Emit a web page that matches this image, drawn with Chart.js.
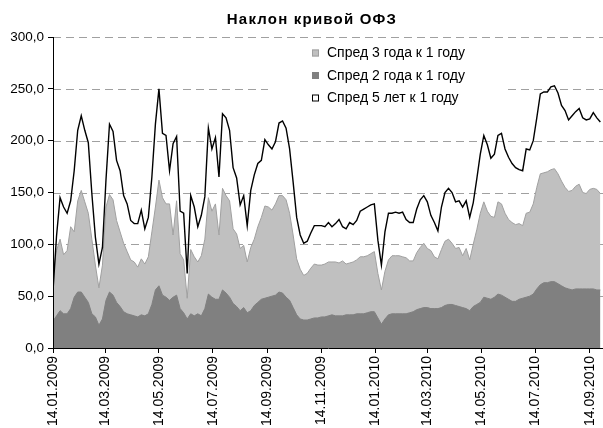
<!DOCTYPE html>
<html>
<head>
<meta charset="utf-8">
<script src="https://cdn.jsdelivr.net/npm/chart.js@4/dist/chart.umd.min.js"></script>
<style>
  html, body { margin: 0; padding: 0; background: #fff; }
  #wrap { width: 603px; height: 428px; }
</style>
</head>
<body>
<div id="wrap"><canvas id="chart"></canvas></div>
<script>
// observations every 4 calendar days starting from the first date
const startDate = '14.01.2009';
const stepDays = 4;

const tickLabels = ['14.01.2009', '14.03.2009', '14.05.2009', '14.07.2009', '14.09.2009', '14.11.2009',
    '14.01.2010', '14.03.2010', '14.05.2010', '14.07.2010', '14.09.2010'];

const seriesNames = ['Спред 3 года к 1 году', 'Спред 2 года к 1 году', 'Спред 5 лет к 1 году'];

// Спред 5 лет к 1 году (line)
const spread5y = [
    55, 108, 145, 136, 130, 142, 171, 210, 224, 210,
    198, 149, 107, 81, 97, 162, 216, 209, 181, 171,
    147, 139, 123, 120, 120, 133, 115, 126, 165, 216,
    250, 207, 205, 171, 197, 204, 132, 130, 72, 147,
    136, 117, 128, 146, 212, 192, 203, 165, 226, 222,
    210, 174, 164, 138, 147, 118, 152, 167, 178, 181,
    201, 196, 192, 199, 217, 219, 212, 192, 160, 126,
    109, 101, 103, 111, 118, 118, 118, 117, 121, 117,
    120, 124, 117, 115, 121, 119, 123, 132, 134, 136,
    138, 139, 104, 80, 112, 130, 130, 131, 130, 131,
    124, 121, 121, 134, 143, 147, 141, 128, 121, 113,
    136, 150, 154, 150, 141, 142, 136, 142, 126, 140,
    163, 187, 205, 196, 183, 187, 205, 207, 192, 184,
    178, 174, 172, 171, 192, 191, 200, 222, 245, 247,
    247, 252, 253, 246, 234, 229, 220, 224, 228, 231,
    222, 220, 221, 227, 222, 218
];

// Спред 3 года к 1 году (light area)
const spread3y = [
    72, 94, 105, 90, 94, 117, 112, 142, 152, 141,
    130, 105, 80, 58, 80, 136, 148, 143, 123, 112,
    101, 93, 85, 83, 78, 86, 81, 88, 112, 136,
    162, 145, 139, 139, 109, 142, 91, 85, 48, 95,
    88, 83, 89, 105, 145, 132, 139, 109, 154, 147,
    142, 115, 110, 96, 99, 83, 97, 105, 117, 126,
    137, 136, 133, 139, 147, 147, 143, 130, 109, 86,
    76, 70, 72, 77, 81, 80, 80, 81, 83, 83,
    83, 82, 84, 81, 82, 83, 85, 88, 88, 89,
    91, 93, 72, 56, 74, 85, 89, 89, 89, 88,
    87, 84, 84, 92, 97, 101, 96, 94, 88, 86,
    95, 103, 105, 101, 96, 97, 89, 96, 85, 100,
    114, 130, 141, 132, 127, 126, 141, 139, 130, 124,
    121, 119, 120, 118, 130, 131, 139, 155, 168, 169,
    170, 172, 173, 168, 161, 155, 151, 152, 156, 158,
    150, 149, 153, 154, 153, 149
];

// Спред 2 года к 1 году (dark area)
const spread2y = [
    26, 31, 36, 33, 33, 38, 49, 54, 54, 49,
    44, 33, 30, 22, 28, 46, 54, 51, 44, 40,
    35, 33, 32, 31, 30, 32, 31, 33, 42, 56,
    60, 51, 49, 46, 49, 51, 38, 34, 28, 33,
    31, 33, 31, 38, 52, 49, 47, 47, 56, 53,
    49, 43, 40, 36, 39, 34, 36, 41, 44, 47,
    48, 49, 50, 51, 54, 53, 49, 46, 39, 32,
    28, 27, 27, 28, 29, 29, 30, 30, 31, 32,
    31, 31, 31, 32, 32, 32, 33, 33, 33, 34,
    35, 35, 29, 23, 28, 32, 33, 33, 33, 33,
    33, 34, 35, 37, 38, 39, 39, 38, 38, 38,
    39, 41, 42, 42, 41, 40, 39, 38, 36, 40,
    42, 44, 49, 48, 47, 49, 52, 51, 49, 47,
    45, 45, 47, 48, 49, 50, 52, 57, 61, 63,
    63, 64, 64, 62, 60, 58, 57, 56, 57, 57,
    57, 57, 57, 57, 56, 56
];

function toUtc(s) {
    const [d, m, y] = s.split('.').map(Number);
    return Date.UTC(y, m - 1, d);
}
function dayOf(s) {
    return Math.round((toUtc(s) - toUtc(startDate)) / 86400000);
}
const tickDays = tickLabels.map(dayOf);
const toPoints = arr => arr.map((v, i) => ({ x: i * stepDays, y: v }));

const FONT = '"Liberation Sans", Arial, sans-serif';

// dashed horizontal gridlines, drawn under the series
const dashedGrid = {
    id: 'dashedGrid',
    beforeDatasetsDraw(chart) {
        const { ctx, chartArea, scales: { y } } = chart;
        ctx.save();
        ctx.strokeStyle = '#a0a0a0';
        ctx.lineWidth = 1;
        ctx.setLineDash([8, 5]);
        y.ticks.forEach(t => {
            if (t.value === 0) return;
            const py = Math.round(y.getPixelForValue(t.value)) + 0.5;
            ctx.beginPath();
            ctx.moveTo(chartArea.left, py);
            ctx.lineTo(chartArea.right, py);
            ctx.stroke();
        });
        ctx.restore();
    }
};

const titleAndLegend = {
    id: 'titleAndLegend',
    afterDraw(chart) {
        const ctx = chart.ctx;
        ctx.save();
        ctx.fillStyle = '#000';
        ctx.font = 'bold 15px ' + FONT;
        ctx.letterSpacing = '1.2px';
        ctx.textAlign = 'center';
        ctx.textBaseline = 'alphabetic';
        ctx.fillText('Наклон кривой ОФЗ', 312, 24);
        ctx.letterSpacing = '0px';

        // legend background
        ctx.fillStyle = '#fff';
        ctx.fillRect(268, 41, 237, 67);

        const rows = [
            { fill: '#c0c0c0', stroke: '#a0a0a0', y: 53 },
            { fill: '#808080', stroke: '#808080', y: 75.5 },
            { fill: '#ffffff', stroke: '#000000', y: 98 }
        ];
        ctx.font = '14px ' + FONT;
        ctx.textAlign = 'left';
        ctx.textBaseline = 'middle';
        rows.forEach((r, i) => {
            ctx.fillStyle = r.fill;
            ctx.fillRect(312, r.y - 3.5, 7, 7);
            ctx.strokeStyle = r.stroke;
            ctx.lineWidth = 1;
            ctx.strokeRect(312.5, r.y - 3.5 + 0.5, 6, 6);
            ctx.fillStyle = '#000';
            ctx.fillText(seriesNames[i], 327, r.y + 0.5);
        });
        ctx.restore();
    }
};

new Chart(document.getElementById('chart'), {
    type: 'line',
    data: {
        datasets: [
            {
                label: seriesNames[2],
                data: toPoints(spread5y),
                borderColor: '#000',
                borderWidth: 1.4,
                pointRadius: 0,
                fill: false,
                tension: 0
            },
            {
                label: seriesNames[1],
                data: toPoints(spread2y),
                borderColor: '#808080',
                backgroundColor: '#808080',
                borderWidth: 1,
                pointRadius: 0,
                fill: 'origin',
                tension: 0
            },
            {
                label: seriesNames[0],
                data: toPoints(spread3y),
                borderColor: '#a0a0a0',
                backgroundColor: '#c0c0c0',
                borderWidth: 1,
                pointRadius: 0,
                fill: 'origin',
                tension: 0
            }
        ]
    },
    options: {
        responsive: true,
        maintainAspectRatio: false,
        animation: false,
        devicePixelRatio: 1,
        layout: { padding: { top: 37, left: 0, right: 0, bottom: 0 } },
        plugins: {
            legend: { display: false },
            title: { display: false },
            tooltip: { enabled: false }
        },
        scales: {
            x: {
                type: 'linear',
                min: 0,
                max: 623,
                afterBuildTicks: scale => { scale.ticks = tickDays.map(v => ({ value: v })); },
                afterFit: scale => { scale.height = 80; scale.paddingLeft = 0; scale.paddingRight = 0; },
                ticks: {
                    autoSkip: false,
                    maxRotation: 90,
                    minRotation: 90,
                    padding: 3,
                    color: '#000',
                    font: { size: 14, family: FONT },
                    callback: v => tickLabels[tickDays.indexOf(v)] || ''
                },
                grid: {
                    drawOnChartArea: false,
                    drawTicks: true,
                    tickLength: 5,
                    tickColor: '#000'
                },
                border: { color: '#000', width: 1, z: 1 }
            },
            y: {
                min: 0,
                max: 300,
                afterFit: scale => { scale.width = 53; scale.paddingTop = 0; scale.paddingBottom = 0; },
                ticks: {
                    stepSize: 50,
                    padding: 4,
                    color: '#000',
                    font: { size: 13.5, family: FONT },
                    callback: v => v.toFixed(1).replace('.', ',')
                },
                grid: {
                    drawOnChartArea: false,
                    drawTicks: true,
                    tickLength: 5,
                    tickColor: '#000'
                },
                border: { color: '#000', width: 1, z: 1 }
            }
        }
    },
    plugins: [dashedGrid, titleAndLegend]
});
</script>
</body>
</html>
